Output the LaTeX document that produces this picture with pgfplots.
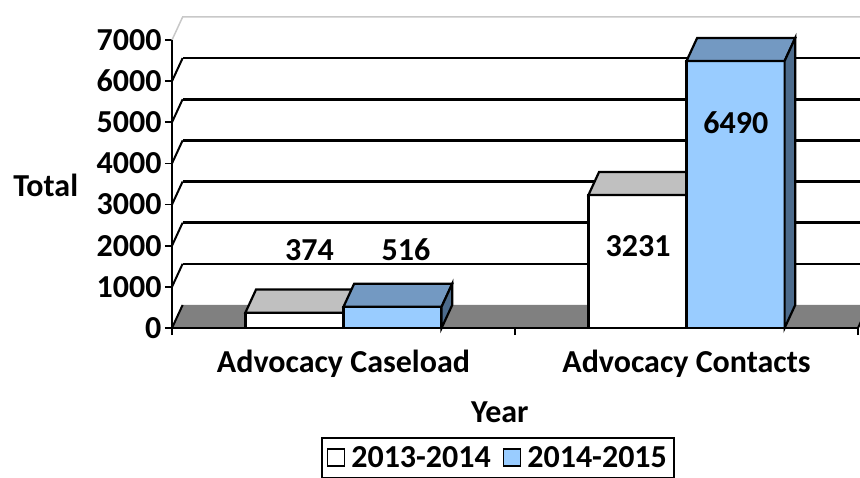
\documentclass[border=0pt]{standalone}
\usepackage{pgfplots}
\pgfplotsset{compat=1.18}
\usepackage{fontspec}
\setmainfont{Carlito}
\definecolor{blueF}{HTML}{99CCFF}
\definecolor{blueT}{HTML}{7399C2}
\definecolor{blueS}{HTML}{4C6B8C}
\definecolor{grayT}{HTML}{C0C0C0}
\definecolor{floorc}{HTML}{808080}
\definecolor{wallc}{HTML}{C8C8C8}
\newcommand{\bigf}{\fontsize{32}{36}\selectfont\bfseries}
\begin{document}
\begin{tikzpicture}[font=\bigf]
\useasboundingbox (0,0) rectangle (860pt,477pt);
\begin{axis}[
  at={(172pt,149pt)}, anchor=south west,
  scale only axis, width=686pt, height=311pt,
  xmin=0, xmax=2, ymin=0, ymax=7560,
  clip=false,
  axis line style={draw=none},
  tick pos=left,
  tick align=outside,
  major tick length=7pt,
  tick style={black, line width=1.8pt},
  ytick={0,1000,...,7000},
  xtick={0,1,2}, xticklabels={},
  extra x ticks={0.5,1.5},
  extra x tick labels={Advocacy Caseload,Advocacy Contacts},
  extra x tick style={major tick length=0pt, xticklabel style={yshift=-19pt}},
  /pgf/number format/assume math mode=true,
  /pgf/number format/1000 sep={},
  tick label style={font=\bigf},
  ylabel={Total},
  every axis y label/.style={at={(axis description cs:-0.184,0.46)}, anchor=center, font=\bigf},
  xlabel={Year},
  every axis x label/.style={at={(axis description cs:0.478,-0.27)}, anchor=center, font=\bigf},
  legend style={at={(axis description cs:0.475,-0.35)}, anchor=north, legend columns=2,
    draw=black, line width=1.8pt, font=\bigf, inner xsep=5pt, inner ysep=7pt,
    /tikz/every odd column/.append style={column sep=4pt},
    /tikz/every even column/.append style={column sep=10pt}},
]
% floor
\addplot[forget plot, fill=floorc, draw=none] coordinates {(0,0)(0.031,560)(2.031,560)(2,0)} -- cycle;
% back wall gridlines
\addplot[forget plot, black, line width=2.5pt] coordinates {(0.031,1560)(2.031,1560)};
\addplot[forget plot, black, line width=2.5pt] coordinates {(0.031,2560)(2.031,2560)};
\addplot[forget plot, black, line width=2.5pt] coordinates {(0.031,3560)(2.031,3560)};
\addplot[forget plot, black, line width=2.5pt] coordinates {(0.031,4560)(2.031,4560)};
\addplot[forget plot, black, line width=2.5pt] coordinates {(0.031,5560)(2.031,5560)};
\addplot[forget plot, black, line width=2.5pt] coordinates {(0.031,6560)(2.031,6560)};
\addplot[forget plot, wallc, line width=1.5pt] coordinates {(0,7000)(0.031,7560)(2.031,7560)};
% left wall diagonals
\addplot[forget plot, black, line width=2pt] coordinates {(0,0)(0.031,560)};
\addplot[forget plot, black, line width=2pt] coordinates {(0,1000)(0.031,1560)};
\addplot[forget plot, black, line width=2pt] coordinates {(0,2000)(0.031,2560)};
\addplot[forget plot, black, line width=2pt] coordinates {(0,3000)(0.031,3560)};
\addplot[forget plot, black, line width=2pt] coordinates {(0,4000)(0.031,4560)};
\addplot[forget plot, black, line width=2pt] coordinates {(0,5000)(0.031,5560)};
\addplot[forget plot, black, line width=2pt] coordinates {(0,6000)(0.031,6560)};
\addplot[forget plot, black, line width=2pt] coordinates {(2,0)(2.031,560)};
% series 2013-2014
\addplot[forget plot, ybar, bar width=0.286, bar shift=-0.143, fill=white, draw=black, line width=2.2pt] coordinates {(0.5,374)(1.5,3231)};
\addplot[forget plot, fill=grayT, draw=black, line width=2.2pt] coordinates {(0.214,374)(0.245,934)(0.531,934)(0.5,374)} -- cycle;
\addplot[forget plot, fill=grayT, draw=black, line width=2.2pt] coordinates {(1.214,3231)(1.245,3791)(1.531,3791)(1.5,3231)} -- cycle;
% series 2014-2015
\addplot[forget plot, ybar, bar width=0.286, bar shift=0.143, fill=blueF, draw=black, line width=2.2pt] coordinates {(0.5,516)(1.5,6490)};
\addplot[forget plot, fill=blueT, draw=black, line width=2.2pt] coordinates {(0.5,516)(0.531,1076)(0.817,1076)(0.786,516)} -- cycle;
\addplot[forget plot, fill=blueS, draw=black, line width=2.2pt] coordinates {(0.786,0)(0.817,560)(0.817,1076)(0.786,516)} -- cycle;
\addplot[forget plot, fill=blueT, draw=black, line width=2.2pt] coordinates {(1.5,6490)(1.531,7050)(1.817,7050)(1.786,6490)} -- cycle;
\addplot[forget plot, fill=blueS, draw=black, line width=2.2pt] coordinates {(1.786,0)(1.817,560)(1.817,7050)(1.786,6490)} -- cycle;
% front axes
\addplot[forget plot, black, line width=2.2pt] coordinates {(0,0)(0,7000)};
\addplot[forget plot, black, line width=2.2pt] coordinates {(0,0)(2,0)};
% data labels
\node at (axis cs:0.401,1896) {374};
\node at (axis cs:0.682,1896) {516};
\node at (axis cs:1.359,1993) {3231};
\node at (axis cs:1.644,4983) {6490};
\addlegendimage{legend image code/.code={\draw[fill=white,draw=black,line width=1.5pt] (0pt,-8pt) rectangle (17pt,9pt);}}
\addlegendentry{2013-2014}
\addlegendimage{legend image code/.code={\draw[fill=blueF,draw=black,line width=1.5pt] (0pt,-8pt) rectangle (17pt,9pt);}}
\addlegendentry{2014-2015}
\end{axis}
\end{tikzpicture}
\end{document}
